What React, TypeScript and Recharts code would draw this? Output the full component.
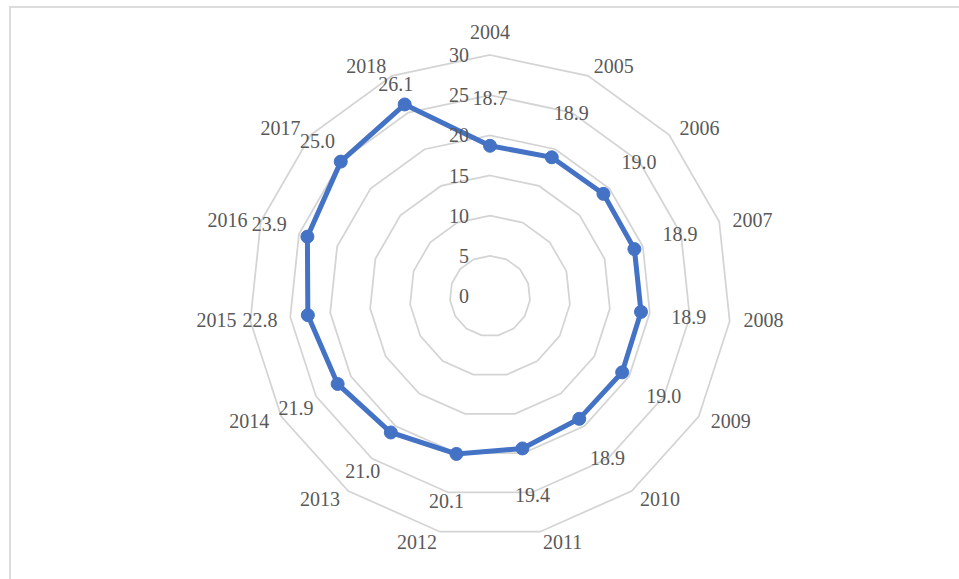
import {
  RadarChart,
  Radar,
  PolarGrid,
  PolarAngleAxis,
  PolarRadiusAxis,
} from 'recharts'

const years = [
  '2004', '2005', '2006', '2007', '2008', '2009', '2010', '2011',
  '2012', '2013', '2014', '2015', '2016', '2017', '2018',
]
const values = [
  18.7, 18.9, 19.0, 18.9, 18.9, 19.0, 18.9, 19.4,
  20.1, 21.0, 21.9, 22.8, 23.9, 25.0, 26.1,
]
const radiusTicks = [0, 5, 10, 15, 20, 25, 30]

const CX = 490
const CY = 296
const OUTER = 241
const TEXT = '#595959'
const FONT = '"Liberation Serif", "Times New Roman", serif'

const data = years.map((y, i) => ({ year: y, value: values[i] }))

// category labels sit just outside the outer ring
const renderYearTick = (props: any) => {
  const idx = years.indexOf(props.payload?.value)
  const a = (idx * 360) / years.length * Math.PI / 180
  const s = Math.sin(a)
  const c = Math.cos(a)
  const r = 255
  let anchor: 'start' | 'end' | 'middle' = s > 0.01 ? 'start' : s < -0.01 ? 'end' : 'middle'
  let x = CX + s * r
  let y = CY - c * r + (c > 0 ? 3 : -3)
  if (anchor === 'middle') y = CY - r - 9
  return (
    <text
      x={x}
      y={y}
      textAnchor={anchor}
      dominantBaseline="central"
      fill={TEXT}
      fontSize={20}
      fontFamily={FONT}
    >
      {props.payload?.value}
    </text>
  )
}

const renderRadiusTick = (props: any) => (
  <text
    x={props.x - 21}
    y={props.y}
    textAnchor="end"
    dominantBaseline="central"
    fill={TEXT}
    fontSize={20}
    fontFamily={FONT}
  >
    {props.payload?.value}
  </text>
)

// dot + value label pushed out along the radius
const renderDot = (props: any) => {
  const { cx, cy, index } = props
  const dx = cx - CX
  const dy = cy - CY
  const pr = Math.sqrt(dx * dx + dy * dy) || 1
  const lr = Math.min(pr + 48, 232)
  const lx = CX + (dx / pr) * lr
  const ly = CY + (dy / pr) * lr
  return (
    <g key={`dot-${index}`}>
      <circle cx={cx} cy={cy} r={6.5} fill="#4472C4" stroke="#4472C4" />
      <text
        x={lx}
        y={ly}
        textAnchor="middle"
        dominantBaseline="central"
        fill={TEXT}
        fontSize={20}
        fontFamily={FONT}
      >
        {values[index].toFixed(1)}
      </text>
    </g>
  )
}

export default function App() {
  return (
    <div
      style={{
        position: 'absolute',
        left: 0,
        top: 0,
        width: 959,
        height: 579,
        background: '#fff',
        overflow: 'hidden',
      }}
    >
      <div
        style={{
          position: 'absolute',
          left: 9,
          top: 6,
          width: 1000,
          height: 700,
          borderTop: '2px solid #dcdcdc',
          borderLeft: '2px solid #dcdcdc',
        }}
      />
      <div style={{ position: 'absolute', left: 0, top: 0 }}>
        <RadarChart
          width={959}
          height={579}
          data={data}
          cx={CX}
          cy={CY}
          outerRadius={OUTER}
          margin={{ top: 0, right: 0, bottom: 0, left: 0 }}
        >
          <PolarGrid gridType="polygon" radialLines={false} stroke="#d4d4d4" strokeWidth={1.75} />
          <PolarAngleAxis
            dataKey="year"
            tick={renderYearTick}
            tickLine={false}
            axisLine={false}
          />
          <PolarRadiusAxis
            angle={90}
            domain={[0, 30]}
            ticks={radiusTicks}
            tickCount={7}
            tick={renderRadiusTick}
            axisLine={false}
            tickLine={false}
          />
          <Radar
            dataKey="value"
            stroke="#4472C4"
            strokeWidth={5}
            fill="none"
            fillOpacity={0}
            dot={renderDot}
            isAnimationActive={false}
          />
        </RadarChart>
      </div>
    </div>
  )
}
